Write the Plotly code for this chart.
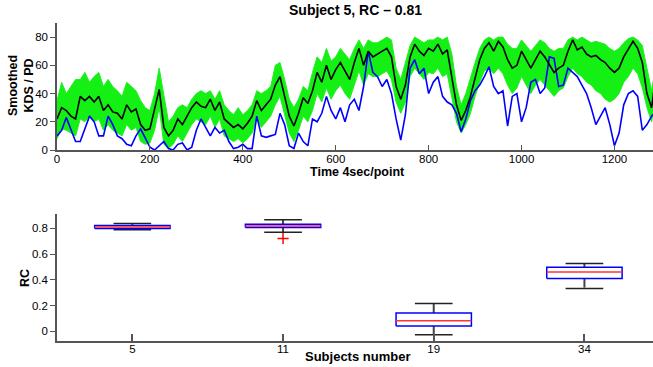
import plotly.graph_objects as go

# ---------------- data ----------------
time_pts = list(range(0, 1300, 10))

mean_kds = [22, 30, 28, 24, 22, 38, 35, 38, 34, 38,
            28, 32, 27, 26, 22, 32, 27, 29, 18, 14,
            15, 28, 43, 16, 10, 14, 22, 18, 24, 30,
            34, 31, 30, 36, 28, 34, 22, 19, 16, 18,
            15, 19, 24, 35, 28, 32, 36, 46, 52, 38,
            24, 17, 26, 37, 33, 42, 55, 48, 60, 50,
            57, 62, 56, 50, 62, 72, 60, 70, 66, 68,
            70, 72, 66, 45, 36, 46, 66, 75, 70, 67,
            72, 70, 75, 68, 71, 52, 32, 21, 28, 38,
            52, 64, 72, 76, 70, 77, 73, 64, 58, 60,
            70, 64, 58, 64, 70, 66, 60, 55, 58, 60,
            70, 78, 71, 73, 68, 66, 67, 64, 62, 58,
            55, 58, 66, 72, 77, 72, 62, 40, 30, 55]

pd_score = [10, 14, 23, 15, 6, 6, 15, 24, 20, 10,
            10, 24, 18, 10, 8, 4, 3, 10, 15, 8,
            2, 0, 3, 6, 1, 0, 4, 5, 0, 2,
            14, 22, 16, 10, 16, 12, 14, 6, 1, 2,
            4, 1, 1, 24, 10, 9, 10, 11, 26, 18,
            3, 1, 12, 6, 3, 22, 20, 26, 38, 28,
            22, 30, 20, 32, 36, 28, 45, 70, 55, 52,
            45, 50, 40, 22, 7, 25, 58, 64, 54, 58,
            40, 48, 52, 38, 34, 32, 26, 13, 22, 35,
            42, 46, 52, 59, 45, 40, 42, 17, 38, 40,
            20, 30, 48, 50, 40, 44, 66, 65, 45, 46,
            58, 55, 52, 46, 40, 30, 18, 24, 30, 18,
            3, 12, 32, 40, 42, 38, 14, 18, 24, 28]

band_upper = [35, 48, 40, 45, 50, 50, 55, 48, 52, 55,
              45, 50, 45, 42, 38, 48, 45, 42, 35, 30,
              28, 40, 58, 38, 20, 24, 30, 32, 30, 36,
              40, 42, 40, 42, 36, 42, 32, 28, 25, 30,
              25, 28, 32, 42, 40, 42, 45, 60, 62, 50,
              36, 30, 36, 45, 42, 55, 66, 62, 72, 63,
              66, 72, 68, 64, 72, 78, 72, 78, 76, 76,
              78, 80, 78, 58, 50, 62, 74, 80, 78, 76,
              78, 78, 80, 78, 80, 68, 45, 32, 40, 52,
              62, 72, 78, 80, 78, 80, 80, 75, 72, 72,
              78, 74, 70, 74, 78, 76, 72, 70, 72, 72,
              78, 80, 78, 80, 78, 76, 77, 76, 75, 72,
              70, 72, 76, 79, 80, 78, 74, 58, 42, 62]

band_lower = [8, 15, 14, 12, 10, 22, 20, 24, 20, 22,
              14, 18, 14, 12, 10, 18, 14, 16, 6, 4,
              5, 14, 30, 4, 1, 4, 10, 6, 12, 18,
              22, 20, 18, 24, 16, 22, 10, 8, 6, 8,
              5, 8, 12, 22, 16, 20, 24, 32, 38, 25,
              12, 6, 14, 24, 20, 28, 40, 34, 44, 36,
              42, 46, 40, 36, 46, 56, 46, 54, 52, 52,
              54, 56, 50, 34, 26, 34, 52, 58, 54, 50,
              55, 54, 58, 52, 54, 38, 20, 12, 18, 26,
              38, 48, 56, 58, 54, 58, 54, 46, 40, 44,
              52, 46, 40, 46, 50, 46, 42, 38, 42, 44,
              52, 58, 54, 52, 48, 46, 42, 40, 36, 34,
              36, 40, 48, 52, 58, 54, 44, 30, 20, 40]

subjects = ["5", "11", "19", "34"]
rc_q1 = [0.800, 0.808, 0.041, 0.410]
rc_median = [0.811, 0.820, 0.083, 0.462]
rc_q3 = [0.823, 0.833, 0.143, 0.498]
rc_low = [0.789, 0.771, -0.026, 0.333]
rc_high = [0.839, 0.867, 0.216, 0.527]
outlier_subject = [2]
outlier_value = [0.722]

# ---------------- figure ----------------
fig = go.Figure()

AX = "#555555"
FONT = "Liberation Sans, Arial, sans-serif"

fig.add_trace(go.Scatter(x=time_pts, y=band_lower, mode="lines",
                         line=dict(color="#22ee22", width=1),
                         showlegend=False, xaxis="x", yaxis="y"))
fig.add_trace(go.Scatter(x=time_pts, y=band_upper, mode="lines",
                         line=dict(color="#22ee22", width=1),
                         fill="tonexty", fillcolor="rgb(20,240,20)",
                         showlegend=False, xaxis="x", yaxis="y"))
fig.add_trace(go.Scatter(x=time_pts, y=pd_score, mode="lines",
                         line=dict(color="#0000ff", width=1.6),
                         showlegend=False, xaxis="x", yaxis="y"))
fig.add_trace(go.Scatter(x=time_pts, y=mean_kds, mode="lines",
                         line=dict(color="#000000", width=1.6),
                         showlegend=False, xaxis="x", yaxis="y"))

pos = [i + 1 for i in range(len(subjects))]
hw = 0.25
cw = 0.125
wx, wy, cx, cy, bx, by, mx, my = [], [], [], [], [], [], [], []
for p, a, m, b, lo, hi in zip(pos, rc_q1, rc_median, rc_q3, rc_low, rc_high):
    wx += [p, p, None, p, p, None]
    wy += [b, hi, None, a, lo, None]
    cx += [p - cw, p + cw, None, p - cw, p + cw, None]
    cy += [hi, hi, None, lo, lo, None]
    bx += [p - hw, p + hw, p + hw, p - hw, p - hw, None]
    by += [a, a, b, b, a, None]
    mx += [p - hw, p + hw, None]
    my += [m, m, None]

fig.add_trace(go.Scatter(x=wx, y=wy, mode="lines",
                         line=dict(color="#444444", width=2, dash="dash"),
                         showlegend=False, xaxis="x2", yaxis="y2"))
fig.add_trace(go.Scatter(x=cx, y=cy, mode="lines",
                         line=dict(color="#222222", width=1.5),
                         showlegend=False, xaxis="x2", yaxis="y2"))
fig.add_trace(go.Scatter(x=bx, y=by, mode="lines",
                         line=dict(color="#0000ff", width=1.5),
                         showlegend=False, xaxis="x2", yaxis="y2"))
fig.add_trace(go.Scatter(x=mx, y=my, mode="lines",
                         line=dict(color="#ff3333", width=1.5),
                         showlegend=False, xaxis="x2", yaxis="y2"))
fig.add_trace(go.Scatter(x=outlier_subject, y=outlier_value, mode="markers",
                         marker=dict(symbol="cross-thin", size=8,
                                     line=dict(color="#ff0000", width=1.5)),
                         showlegend=False, xaxis="x2", yaxis="y2"))

tickfont = dict(family=FONT, size=11.5, color="#000000")

W, H = 653, 367
ML, MT, MB = 57, 23, 26
plot_h = H - MT - MB
plot_w = W - ML


def py(px):
    return (H - MB - px) / plot_h


def pxf(px):
    return (px - ML) / plot_w


common = dict(showline=True, linecolor=AX, linewidth=1.5, showgrid=False,
              zeroline=False, tickfont=tickfont, automargin=False, tickcolor=AX)

fig.update_layout(
    template="none",
    width=W, height=H,
    margin=dict(l=ML, r=0, t=MT, b=MB, autoexpand=False),
    paper_bgcolor="white", plot_bgcolor="white",
    font=dict(family=FONT, color="#000000"),
    xaxis=dict(domain=[0, 1], anchor="y", range=[0, 1283],
               tickvals=[0, 200, 400, 600, 800, 1000, 1200],
               ticks="inside", ticklen=5, tickwidth=1, ticklabelstandoff=-3,
               **common),
    yaxis=dict(domain=[py(150), 1], anchor="x", range=[0, 90],
               tickvals=[0, 20, 40, 60, 80],
               ticks="outside", ticklen=5, tickwidth=1, **common),
    xaxis2=dict(domain=[0, 1], anchor="y2", range=[0.5, 4.455],
                tickvals=pos, ticktext=subjects,
                ticks="inside", ticklen=7, tickwidth=2, ticklabelstandoff=-4,
                **common),
    yaxis2=dict(domain=[0, py(214.3)], anchor="x2", range=[-0.075, 0.91],
                tickvals=[0, 0.2, 0.4, 0.6, 0.8],
                ticktext=["0", "0.2", "0.4", "0.6", "0.8"],
                ticks="outside", ticklen=5, tickwidth=1, **common),
    annotations=[
        dict(text="<b>Subject 5, RC – 0.81</b>", x=pxf(355), y=py(10), xref="paper",
             yref="paper", yanchor="middle", showarrow=False,
             font=dict(size=14, family=FONT)),
        dict(text="<b>Time 4sec/point</b>", x=pxf(357), xref="paper", y=py(172.5),
             yref="paper", yanchor="middle", showarrow=False,
             font=dict(size=12.5, family=FONT)),
        dict(text="<b>Subjects number</b>", x=pxf(357), xref="paper", y=py(356),
             yref="paper", yanchor="middle", showarrow=False,
             font=dict(size=13, family=FONT)),
        dict(text="<b>Smoothed<br>KDS / PD</b>", x=pxf(21), xref="paper", y=py(86),
             yref="paper", xanchor="center", yanchor="middle", showarrow=False,
             textangle=-90, font=dict(size=12.5, family=FONT)),
        dict(text="<b>RC</b>", x=pxf(25), xref="paper", y=py(278), yref="paper",
             xanchor="center", yanchor="middle", showarrow=False, textangle=-90,
             font=dict(size=12.5, family=FONT)),
    ],
)

fig.write_html("out.html",
               config={"displayModeBar": False},
               post_script="document.body.style.margin='0px';"
                           "document.body.style.padding='0px';")
